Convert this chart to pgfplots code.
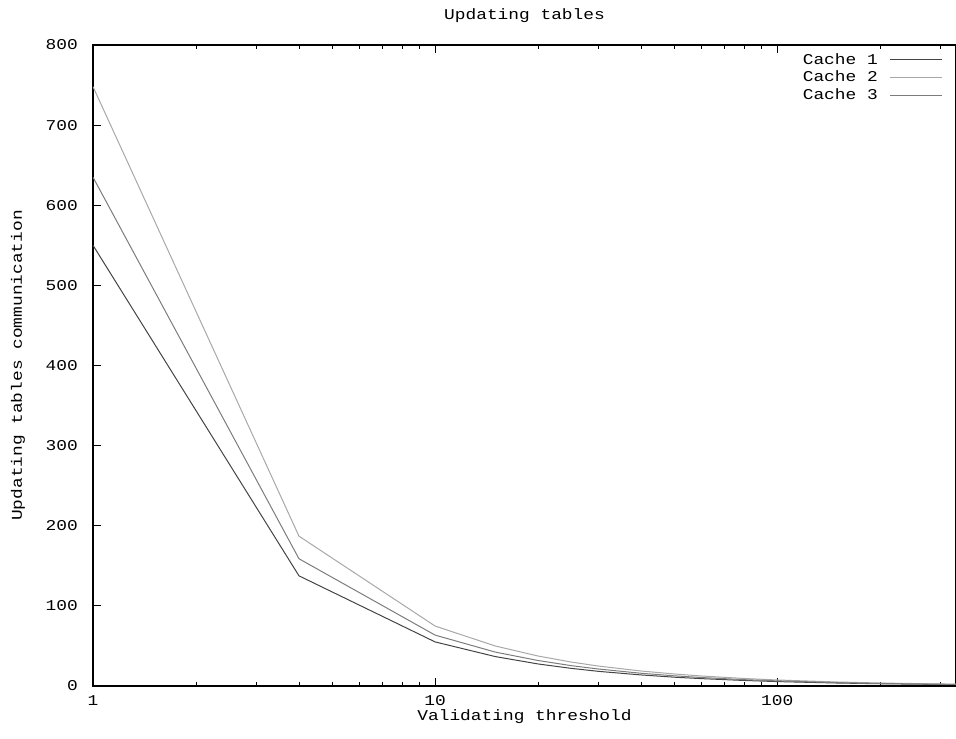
\documentclass[border=0pt]{standalone}
\usepackage{fontspec}
\setmainfont[FakeStretch=1.19]{Liberation Mono}
\usepackage{pgfplots}
\pgfplotsset{compat=1.18}
\definecolor{cOne}{HTML}{444444}
\definecolor{cTwo}{HTML}{A8A8A8}
\definecolor{cThree}{HTML}{7C7C7C}
\begin{document}
\fontsize{15}{17}\selectfont
\begin{tikzpicture}
\useasboundingbox (-93pt,-53pt) rectangle (863pt,686pt);
\begin{axis}[
  at={(0,0)}, anchor=south west,
  scale only axis, width=863pt, height=641pt,
  xmode=log, xmin=1, xmax=333,
  ymin=0, ymax=800,
  xtick={1,10,100}, xticklabels={1,10,100},
  minor xtick={2,3,4,5,6,7,8,9,20,30,40,50,60,70,80,90,200,300},
  ytick={0,100,...,800},
  ytick pos=left, xtick pos=both,
  /pgf/number format/assume math mode=true,
  tick align=inside,
  major tick length=8pt, minor tick length=4pt,
  tick style={black, line width=0.9pt},
  axis line style={black, line width=1.2pt},
  ticklabel style={font=\fontsize{15}{17}\selectfont},
  xticklabel style={yshift=-4pt},
  yticklabel style={xshift=-10pt},
  title={Updating tables},
  title style={at={(0.5,1)}, anchor=center, yshift=23pt, font=\fontsize{15}{17}\selectfont},
  xlabel={Validating threshold},
  xlabel style={at={(0.5,0)}, anchor=center, yshift=-31pt, font=\fontsize{15}{17}\selectfont},
  ylabel={Updating tables communication},
  ylabel style={at={(0,0.5)}, anchor=center, yshift=75pt, font=\fontsize{15}{17}\selectfont},
  legend style={at={(1,1)}, anchor=north east, draw=none, fill=none,
    font=\fontsize{15}{17}\selectfont, xshift=-10pt, yshift=-4pt,
    row sep=0.5pt, cells={anchor=east}},
  legend plot pos=right,
  legend image code/.code={\draw[#1] (0pt,0cm) -- (52pt,0cm);},
]
\addplot[cOne, line width=1pt] coordinates {
(1,550) (4,137.5) (10,55) (15,36.7) (20,27.5) (25,22) (30,18.3) (40,13.8) (50,11) (60,9.2) (80,6.9) (100,5.5) (150,3.7) (200,2.8) (333,1.7)};
\addlegendentry{Cache 1\hspace*{10pt}}
\addplot[cTwo, line width=1pt] coordinates {
(1,748) (4,187) (10,74.8) (15,49.9) (20,37.4) (25,29.9) (30,24.9) (40,18.7) (50,15) (60,12.5) (80,9.4) (100,7.5) (150,5) (200,3.7) (333,2.3)};
\addlegendentry{Cache 2\hspace*{10pt}}
\addplot[cThree, line width=1pt] coordinates {
(1,635) (4,158.8) (10,63.5) (15,42.3) (20,31.8) (25,25.4) (30,21.2) (40,15.9) (50,12.7) (60,10.6) (80,7.9) (100,6.4) (150,4.2) (200,3.2) (333,1.9)};
\addlegendentry{Cache 3\hspace*{10pt}}
\end{axis}
\end{tikzpicture}
\end{document}
